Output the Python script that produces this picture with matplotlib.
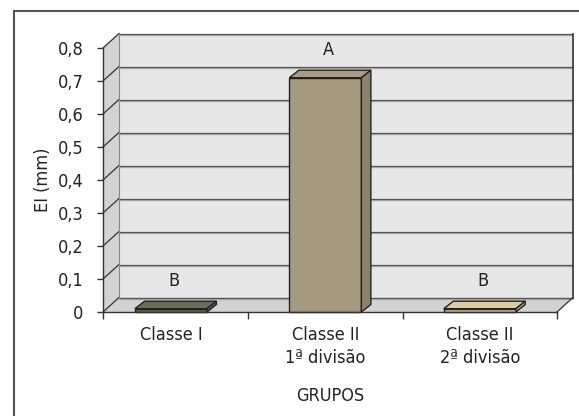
import matplotlib
matplotlib.use('Agg')
import matplotlib.pyplot as plt
from matplotlib.patches import Polygon, Rectangle
import numpy as np

# chart data
grupos = ['Classe I', 'Classe II\n1ª divisão', 'Classe II\n2ª divisão']
ei_mm = [0.01, 0.71, 0.01]
letras = ['B', 'A', 'B']
cores = ['#6c6a56', '#a59a7d', '#d5c8a0']
y_ticks = [0, 0.1, 0.2, 0.3, 0.4, 0.5, 0.6, 0.7, 0.8]
y_labels = ['0', '0,1', '0,2', '0,3', '0,4', '0,5', '0,6', '0,7', '0,8']

plt.rcParams['font.family'] = ['DejaVu Sans']
plt.rcParams['font.stretch'] = 'condensed'
FS = 13

W, H = 579, 416
fig = plt.figure(figsize=(W / 100, H / 100), dpi=100)

# outer frame
fig.patches.append(Rectangle((14 / W, -0.05), 1.1, 1 - 11 / H + 0.05,
                             transform=fig.transFigure, fill=False,
                             edgecolor='#555555', lw=1.5))

ax = fig.add_axes([103 / W, 104 / H, 454 / W, 264 / H])
x_lo, x_hi = 0.06, 3.0
y_hi = 0.8
ax.set_xlim(x_lo, x_hi)
ax.set_ylim(0, y_hi)

# depth of the 3d box and the bars, in data units
ppx = (454 / (x_hi - x_lo))
ppy = 264 / y_hi
ddx, ddy = 16 / ppx, 14.5 / ppy
bdx, bdy = 9.5 / ppx, 7.5 / ppy
bw = 72 / ppx

def poly(pts, fc, ec='none', lw=0, z=1):
    ax.add_patch(Polygon(pts, closed=True, facecolor=fc, edgecolor=ec,
                         lw=lw, zorder=z, clip_on=False))

# walls
poly([(x_lo + ddx, ddy), (x_hi + ddx, ddy), (x_hi + ddx, y_hi + ddy),
      (x_lo + ddx, y_hi + ddy)], '#e7e7e7', z=0.5)
poly([(x_lo, 0), (x_lo + ddx, ddy), (x_lo + ddx, y_hi + ddy), (x_lo, y_hi)],
     '#d3d3d3', z=0.6)
poly([(x_lo, 0), (x_hi, 0), (x_hi + ddx, ddy), (x_lo + ddx, ddy)],
     '#d2d2d2', z=0.6)

# gridlines on back wall and left wall
sh = 1.2 / ppy
for v in y_ticks:
    ax.plot([x_lo + ddx, x_hi + ddx], [v + ddy - sh, v + ddy - sh],
            color='#b0b0b0', lw=1.0, zorder=0.8, clip_on=False,
            solid_capstyle='butt')
    ax.plot([x_lo + ddx, x_hi + ddx], [v + ddy, v + ddy], color='#555555',
            lw=0.9, zorder=0.9, clip_on=False, solid_capstyle='butt')
    ax.plot([x_lo, x_lo + ddx], [v, v + ddy], color='#333333', lw=0.9,
            zorder=0.9, clip_on=False)
ax.plot([x_lo + ddx, x_lo + ddx], [ddy, y_hi + ddy], color='#888888', lw=0.8,
        zorder=0.9, clip_on=False)
ax.plot([x_hi + ddx, x_hi + ddx], [ddy, y_hi + ddy], color='#333333', lw=1.2,
        zorder=0.9, clip_on=False)
ax.plot([x_hi, x_hi + ddx], [0, ddy], color='#333333', lw=0.9,
        zorder=0.9, clip_on=False)

def shade(c, f):
    c = np.array(matplotlib.colors.to_rgb(c))
    return tuple(np.clip(c * f, 0, 1))

# bars
for i, (v, c) in enumerate(zip(ei_mm, cores)):
    x0 = i + 0.5 - bw / 2
    x1 = x0 + bw
    ec = '#222222'
    poly([(x0, 0), (x1, 0), (x1, v), (x0, v)], c, ec, 1.0, 3)
    poly([(x0, v), (x1, v), (x1 + bdx, v + bdy), (x0 + bdx, v + bdy)],
         shade(c, 1.02), ec, 1.0, 3)
    poly([(x1, 0), (x1 + bdx, bdy), (x1 + bdx, v + bdy), (x1, v)],
         shade(c, 0.85), ec, 1.0, 3)
    ax.annotate(letras[i], (i + 0.5, v), xytext=(3, 28),
                textcoords='offset pixels', ha='center', va='center',
                fontsize=FS, color='#222222', zorder=5)

for s in ['top', 'right']:
    ax.spines[s].set_visible(False)
for s in ['left', 'bottom']:
    ax.spines[s].set_color('#333333')
    ax.spines[s].set_linewidth(1.0)
    ax.spines[s].set_zorder(4)
ax.patch.set_visible(False)

ax.set_yticks(y_ticks)
ax.set_yticklabels(y_labels, fontsize=FS, color='#222222')
ax.tick_params(axis='y', length=4, width=1, color='#333333', pad=10)

ax.set_xticks([x_lo, 1, 2, 3], minor=True)
ax.set_xticks([0.5, 1.5, 2.5])
ax.set_xticklabels(grupos, fontsize=FS, color='#222222', linespacing=1.4)
ax.tick_params(axis='x', which='major', length=0, pad=10)
ax.tick_params(axis='x', which='minor', length=5, width=1, color='#333333')

ax.set_ylabel('EI (mm)', fontsize=FS, color='#222222', labelpad=4)
ax.set_xlabel('GRUPOS', fontsize=FS, color='#222222', labelpad=14)

fig.savefig('out.png', dpi=100)
